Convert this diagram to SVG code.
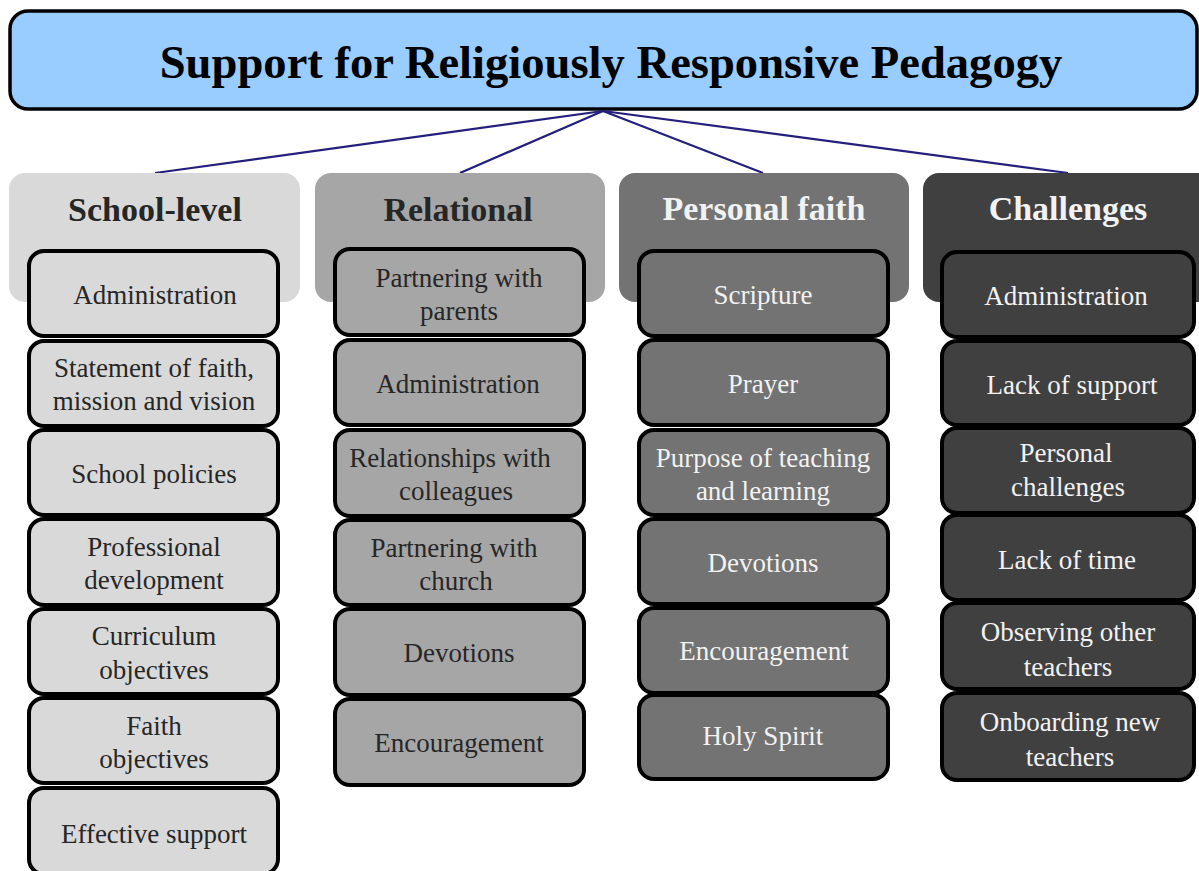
<svg xmlns="http://www.w3.org/2000/svg" width="1199" height="871" viewBox="0 0 1199 871">
  <style>
    .title { font-family: "Liberation Serif", "Times New Roman", serif; font-weight: bold; font-size: 46.6px; fill: #000; text-anchor: middle; }
    .head { font-family: "Liberation Serif", "Times New Roman", serif; font-weight: bold; font-size: 34px; text-anchor: middle; }
    .item { font-family: "Liberation Serif", "Times New Roman", serif; font-size: 27px; text-anchor: middle; }
    .box { stroke: #000; stroke-width: 4; }
    .c1 { fill: #D9D9D9; }
    .c2 { fill: #A6A6A6; }
    .c3 { fill: #737373; }
    .c4 { fill: #404040; }
    .dark { fill: #262626; }
    .light { fill: #F2F2F2; }
    .link { stroke: #241F7D; stroke-width: 2.2; fill: none; }
  </style>

  <rect width="1199" height="871" fill="#FFFFFF"/>

  <g id="title">
    <rect x="10" y="11" width="1187" height="98" rx="18" fill="#99CCFF" stroke="#000" stroke-width="3.5"/>
    <text class="title" x="611" y="78">Support for Religiously Responsive Pedagogy</text>
  </g>

  <g id="connectors">
    <line class="link" x1="603" y1="111" x2="155" y2="173"/>
    <line class="link" x1="603" y1="111" x2="460" y2="173"/>
    <line class="link" x1="603" y1="111" x2="763" y2="173"/>
    <line class="link" x1="603" y1="111" x2="1068" y2="173"/>
  </g>

  <!-- Column 1: School-level -->
  <g id="school-level">
    <rect class="c1" x="9" y="173" width="291" height="129" rx="16"/>
    <text class="head dark" x="155" y="221">School-level</text>
  </g>
  <g id="school-administration">
    <rect class="box c1" x="29" y="251" width="249" height="85" rx="15"/>
    <text class="item dark" x="155" y="304">Administration</text>
  </g>
  <g id="school-statement">
    <rect class="box c1" x="29" y="341" width="249" height="85" rx="15"/>
    <text class="item dark" x="154" y="377">Statement of faith,</text>
    <text class="item dark" x="154" y="410">mission and vision</text>
  </g>
  <g id="school-policies">
    <rect class="box c1" x="29" y="430" width="249" height="85" rx="15"/>
    <text class="item dark" x="154" y="483">School policies</text>
  </g>
  <g id="school-pd">
    <rect class="box c1" x="29" y="519" width="249" height="86" rx="15"/>
    <text class="item dark" x="154" y="556">Professional</text>
    <text class="item dark" x="154" y="589">development</text>
  </g>
  <g id="school-curriculum">
    <rect class="box c1" x="29" y="609" width="249" height="85" rx="15"/>
    <text class="item dark" x="154" y="645">Curriculum</text>
    <text class="item dark" x="154" y="679">objectives</text>
  </g>
  <g id="school-faith">
    <rect class="box c1" x="29" y="698" width="249" height="85" rx="15"/>
    <text class="item dark" x="154" y="735">Faith</text>
    <text class="item dark" x="154" y="768">objectives</text>
  </g>
  <g id="school-effective">
    <rect class="box c1" x="29" y="788" width="249" height="86" rx="15"/>
    <text class="item dark" x="154" y="843">Effective support</text>
  </g>

  <!-- Column 2: Relational -->
  <g id="relational">
    <rect class="c2" x="315" y="173" width="290" height="129" rx="16"/>
    <text class="head dark" x="458" y="221">Relational</text>
  </g>
  <g id="rel-parents">
    <rect class="box c2" x="335" y="249" width="249" height="86" rx="15"/>
    <text class="item dark" x="459" y="287">Partnering with</text>
    <text class="item dark" x="459" y="320">parents</text>
  </g>
  <g id="rel-administration">
    <rect class="box c2" x="335" y="340" width="249" height="85" rx="15"/>
    <text class="item dark" x="458" y="393">Administration</text>
  </g>
  <g id="rel-colleagues">
    <rect class="box c2" x="335" y="430" width="249" height="86" rx="15"/>
    <text class="item dark" x="450" y="467">Relationships with</text>
    <text class="item dark" x="456" y="500">colleagues</text>
  </g>
  <g id="rel-church">
    <rect class="box c2" x="335" y="520" width="249" height="85" rx="15"/>
    <text class="item dark" x="454" y="557">Partnering with</text>
    <text class="item dark" x="456" y="590">church</text>
  </g>
  <g id="rel-devotions">
    <rect class="box c2" x="335" y="609" width="249" height="86" rx="15"/>
    <text class="item dark" x="459" y="662">Devotions</text>
  </g>
  <g id="rel-encouragement">
    <rect class="box c2" x="335" y="699" width="249" height="86" rx="15"/>
    <text class="item dark" x="459" y="752">Encouragement</text>
  </g>

  <!-- Column 3: Personal faith -->
  <g id="personal-faith">
    <rect class="c3" x="619" y="173" width="290" height="129" rx="16"/>
    <text class="head light" x="764" y="220">Personal faith</text>
  </g>
  <g id="pf-scripture">
    <rect class="box c3" x="639" y="251" width="249" height="85" rx="15"/>
    <text class="item light" x="763" y="304">Scripture</text>
  </g>
  <g id="pf-prayer">
    <rect class="box c3" x="639" y="340" width="249" height="85" rx="15"/>
    <text class="item light" x="763" y="393">Prayer</text>
  </g>
  <g id="pf-purpose">
    <rect class="box c3" x="639" y="430" width="249" height="85" rx="15"/>
    <text class="item light" x="763" y="467">Purpose of teaching</text>
    <text class="item light" x="763" y="500">and learning</text>
  </g>
  <g id="pf-devotions">
    <rect class="box c3" x="639" y="519" width="249" height="85" rx="15"/>
    <text class="item light" x="763" y="572">Devotions</text>
  </g>
  <g id="pf-encouragement">
    <rect class="box c3" x="639" y="608" width="249" height="85" rx="15"/>
    <text class="item light" x="764" y="660">Encouragement</text>
  </g>
  <g id="pf-spirit">
    <rect class="box c3" x="639" y="695" width="249" height="84" rx="15"/>
    <text class="item light" x="763" y="745">Holy Spirit</text>
  </g>

  <!-- Column 4: Challenges -->
  <g id="challenges">
    <rect class="c4" x="923" y="173" width="290" height="129" rx="16"/>
    <text class="head light" x="1068" y="220">Challenges</text>
  </g>
  <g id="ch-administration">
    <rect class="box c4" x="942" y="252" width="252" height="85" rx="15"/>
    <text class="item light" x="1066" y="305">Administration</text>
  </g>
  <g id="ch-support">
    <rect class="box c4" x="942" y="341" width="252" height="84" rx="15"/>
    <text class="item light" x="1072" y="394">Lack of support</text>
  </g>
  <g id="ch-personal">
    <rect class="box c4" x="942" y="428" width="252" height="85" rx="15"/>
    <text class="item light" x="1066" y="462">Personal</text>
    <text class="item light" x="1068" y="496">challenges</text>
  </g>
  <g id="ch-time">
    <rect class="box c4" x="942" y="515" width="252" height="85" rx="15"/>
    <text class="item light" x="1067" y="569">Lack of time</text>
  </g>
  <g id="ch-observing">
    <rect class="box c4" x="942" y="603" width="252" height="86" rx="15"/>
    <text class="item light" x="1068" y="641">Observing other</text>
    <text class="item light" x="1068" y="676">teachers</text>
  </g>
  <g id="ch-onboarding">
    <rect class="box c4" x="942" y="693" width="252" height="87" rx="15"/>
    <text class="item light" x="1070" y="731">Onboarding new</text>
    <text class="item light" x="1070" y="766">teachers</text>
  </g>
</svg>
